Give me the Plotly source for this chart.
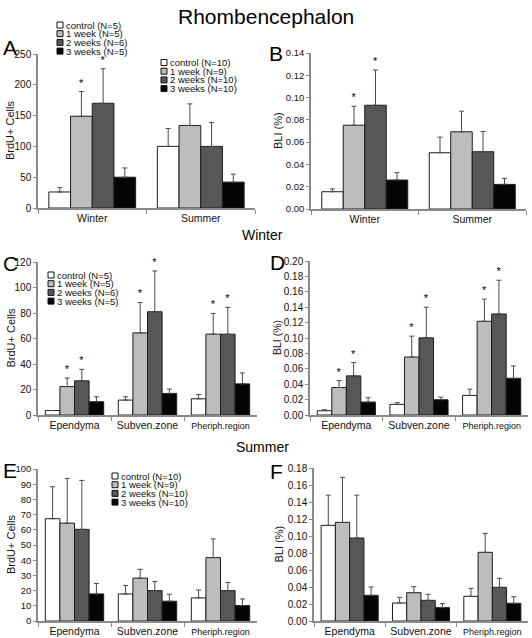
import plotly.graph_objects as go

W, H = 532, 638
FONT = "Liberation Sans, Arial, sans-serif"

# ---------------- data ----------------
groups = ["control", "1 week", "2 weeks", "3 weeks"]
bar_colors = ["#ffffff", "#bdbdbd", "#575757", "#050505"]

seasons = ["Winter", "Summer"]
regions = ["Ependyma", "Subven.zone", "Pheriph.region"]

# A: BrdU+ cells, Winter / Summer (rows = groups)
a_mean = [[26, 100], [149, 134], [170, 100], [50, 42]]
a_err = [[7, 29], [40, 35], [56, 39], [15, 13]]
a_sig = [[0, 0], [1, 0], [1, 0], [0, 0]]

# B: BLI (%), Winter / Summer
b_mean = [[0.0155, 0.0505], [0.0752, 0.0693], [0.0931, 0.0514], [0.026, 0.0221]]
b_err = [[0.0025, 0.014], [0.017, 0.0185], [0.0317, 0.0182], [0.0066, 0.0054]]
b_sig = [[0, 0], [1, 0], [1, 0], [0, 0]]

# C: Winter BrdU+ cells by region
c_mean = [[3.5, 11.7, 12.7], [22.3, 64.4, 63.4], [26.8, 81, 63.4], [10.4, 16.9, 24.4]]
c_err = [[0, 2.6, 3.4], [6.7, 23.9, 16.3], [9, 32, 21], [3.9, 3.4, 8.6]]
c_sig = [[0, 0, 0], [1, 1, 1], [1, 1, 1], [0, 0, 0]]

# D: Winter BLI (%) by region
d_mean = [[0.0056, 0.0138, 0.0254], [0.0357, 0.0753, 0.1217], [0.0508, 0.1002, 0.1312], [0.0168, 0.0198, 0.0477]]
d_err = [[0.0012, 0.0022, 0.0081], [0.009, 0.0271, 0.0288], [0.0172, 0.0398, 0.0438], [0.0056, 0.0034, 0.016]]
d_sig = [[0, 0, 0], [1, 1, 1], [1, 1, 1], [0, 0, 0]]

# E: Summer BrdU+ cells by region
e_mean = [[67.3, 17.8, 15.2], [64.4, 28.2, 41.7], [60.3, 20, 20], [17.8, 13, 10.2]]
e_err = [[21, 5.6, 5.2], [29.4, 5.8, 12.3], [32.2, 6, 5.4], [6.9, 4.6, 4.3]]
e_sig = [[0, 0, 0], [0, 0, 0], [0, 0, 0], [0, 0, 0]]

# F: Summer BLI (%) by region
f_mean = [[0.1125, 0.0212, 0.029], [0.116, 0.0333, 0.0808], [0.0976, 0.0243, 0.0396], [0.0302, 0.0157, 0.0208]]
f_err = [[0.0355, 0.0066, 0.0094], [0.053, 0.0071, 0.0222], [0.0504, 0.0071, 0.0106], [0.0098, 0.0047, 0.0078]]
f_sig = [[0, 0, 0], [0, 0, 0], [0, 0, 0], [0, 0, 0]]

legend_winter = ["control (N=5)", "1 week (N=5)", "2 weeks (N=6)", "3 weeks (N=5)"]
legend_summer = ["control (N=10)", "1 week (N=9)", "2 weeks (N=10)", "3 weeks (N=10)"]

# ---------------- layout helpers ----------------
def fx(px):
    return px / W

def fy(py):
    return 1 - py / H

AXCOL = "#8a8a8a"
TXT = "#111111"

panels = [
    # letter, cats, mean, err, sig, (x0,x1,ytop,ybottom), yrange, dtick, fmt, ytitle, tickfont, titlefont, letter pos, title x
    ("A", seasons, a_mean, a_err, a_sig, (38, 255, 54, 208), [0, 250], 50, "", "BrdU+ Cells", 10, 11, (1, 48), 10),
    ("B", seasons, b_mean, b_err, b_sig, (311, 526, 53, 209), [0, 0.14], 0.02, ".2f", "BLI (%)", 9.5, 11, (267, 53), 278),
    ("C", regions, c_mean, c_err, c_sig, (38, 257, 262, 415), [0, 120], 20, "", "BrdU+ Cells", 10, 11, (1, 264), 10),
    ("D", regions, d_mean, d_err, d_sig, (310, 528, 261, 415), [0, 0.20], 0.02, ".2f", "BLI (%)", 10, 10.5, (268, 262), 277),
    ("E", regions, e_mean, e_err, e_sig, (38, 257, 469, 621), [0, 100], 10, "", "BrdU+ Cells", 9.5, 11, (1, 470), 11),
    ("F", regions, f_mean, f_err, f_sig, (314, 528, 468, 621), [0, 0.18], 0.02, ".2f", "BLI (%)", 10, 11, (268, 471), 278),
]

fig = go.Figure()
annotations = []
shapes = []

for i, (letter, cats, mean, err, sig, box, yr, dt, fmt, ytitle, tfs, ttfs, lpos, tx) in enumerate(panels):
    s = "" if i == 0 else str(i + 1)
    xa, ya = "x" + s, "y" + s
    n = len(cats)
    for g in range(4):
        fig.add_trace(go.Bar(
            x=cats, y=mean[g], xaxis=xa, yaxis=ya,
            name=groups[g], offsetgroup=str(g), showlegend=False,
            marker=dict(color=bar_colors[g], line=dict(color="#1e1e1e", width=1)),
            error_y=dict(type="data", array=err[g], arrayminus=[0] * n, symmetric=False,
                         color="#4a4a4a", thickness=1, width=2.5),
        ))
    # significance stars: transparent bars reaching the top of the error bar
    for g in range(4):
        if not any(sig[g]):
            continue
        tops = [mean[g][k] + err[g][k] if sig[g][k] else None for k in range(n)]
        fig.add_trace(go.Bar(
            x=cats, y=tops, xaxis=xa, yaxis=ya, offsetgroup=str(g), showlegend=False,
            marker=dict(color="rgba(255,255,255,0)", line=dict(width=0)),
            text=["*" if sig[g][k] else "" for k in range(n)],
            textposition="outside", constraintext="none", cliponaxis=False,
            textfont=dict(size=11, color="#000000", family=FONT),
            outsidetextfont=dict(size=11, color="#000000", family=FONT),
            hoverinfo="skip",
        ))
    x0, x1, yt, yb = box
    ticktext = [c if c != "Pheriph.region" else "<span style='font-size:9px'>Pheriph.region</span>" for c in cats]
    fig.update_layout(**{
        ("xaxis" + s): dict(
            domain=[fx(x0), fx(x1)], anchor=ya, type="category",
            showline=True, linecolor=AXCOL, linewidth=1.5, mirror=False,
            ticks="outside", tickson="boundaries", ticklen=4, tickcolor=AXCOL, tickwidth=1.2,
            tickvals=cats, ticktext=ticktext,
            tickfont=dict(size=10.5, color=TXT, family=FONT),
            showgrid=False, zeroline=False, automargin=False, fixedrange=True,
        ),
        ("yaxis" + s): dict(
            domain=[fy(yb), fy(yt)], anchor=xa, range=yr, dtick=dt, tick0=0, tickformat=fmt,
            showline=True, linecolor=AXCOL, linewidth=1.5,
            ticks="outside", ticklen=3, tickcolor=AXCOL, tickwidth=1.2,
            tickfont=dict(size=tfs, color=TXT, family=FONT),
            showgrid=False, zeroline=False, automargin=False, fixedrange=True,
        ),
    })
    # y-axis title
    annotations.append(dict(text=ytitle, x=fx(tx), y=fy((yt + yb) / 2), xref="paper", yref="paper",
                            xanchor="center", yanchor="middle", textangle=-90, showarrow=False,
                            font=dict(size=ttfs, color=TXT, family=FONT)))
    # panel letter
    annotations.append(dict(text=letter, x=fx(lpos[0]), y=fy(lpos[1]), xref="paper", yref="paper",
                            xanchor="left", yanchor="middle", showarrow=False,
                            font=dict(size=21, color="#000", family=FONT)))

# manual legends (tight line spacing as in the original)
def add_legend(xpx, ypx, labels, step=8.7, size=9.5):
    for k, lab in enumerate(labels):
        yc = ypx + k * step
        shapes.append(dict(type="rect", xref="paper", yref="paper",
                           x0=fx(xpx), x1=fx(xpx + 6), y0=fy(yc + 3), y1=fy(yc - 3),
                           fillcolor=bar_colors[k], line=dict(color="#111", width=1)))
        annotations.append(dict(text=lab, x=fx(xpx + 6.5), y=fy(yc), xref="paper", yref="paper",
                                xanchor="left", yanchor="middle", showarrow=False,
                                font=dict(size=size, color=TXT, family=FONT)))

add_legend(57, 25, legend_winter)
add_legend(161, 62.5, legend_summer)
add_legend(48, 275, legend_winter)
add_legend(112, 476, legend_summer)

# titles
annotations.append(dict(text="Rhombencephalon", x=fx(266), y=fy(17), xref="paper", yref="paper",
                        xanchor="center", yanchor="middle", showarrow=False,
                        font=dict(size=21, color="#000", family=FONT)))
annotations.append(dict(text="Winter", x=fx(262), y=fy(235), xref="paper", yref="paper",
                        xanchor="center", yanchor="middle", showarrow=False,
                        font=dict(size=14, color="#000", family=FONT)))
annotations.append(dict(text="Summer", x=fx(262), y=fy(447), xref="paper", yref="paper",
                        xanchor="center", yanchor="middle", showarrow=False,
                        font=dict(size=14, color="#000", family=FONT)))

fig.update_layout(
    width=W, height=H, margin=dict(l=0, r=0, t=0, b=0),
    paper_bgcolor="white", plot_bgcolor="white",
    barmode="group", bargap=0.2, bargroupgap=0,
    showlegend=False, annotations=annotations, shapes=shapes,
    font=dict(family=FONT, color=TXT),
)

fig.write_html("out.html", config={"displayModeBar": False},
               post_script="document.body.style.margin='0px';document.body.style.overflow='hidden';")
